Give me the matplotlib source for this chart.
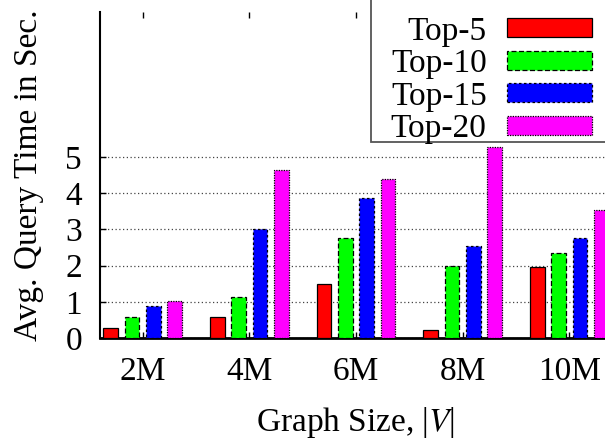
import matplotlib
matplotlib.use("Agg")
import matplotlib.pyplot as plt
import numpy as np
from matplotlib.patches import Rectangle

plt.rcParams['font.family'] = ['Liberation Serif', 'DejaVu Serif']
plt.rcParams['mathtext.fontset'] = 'stix'

sizes = ['2M', '4M', '6M', '8M', '10M']
series = ['Top-5', 'Top-10', 'Top-15', 'Top-20']
top5 = [0.27, 0.57, 1.48, 0.21, 1.95]
top10 = [0.59, 1.12, 2.77, 2.00, 2.34]
top15 = [0.88, 3.00, 3.87, 2.53, 2.75]
top20 = [1.01, 4.64, 4.40, 5.28, 3.54]

colors = ['#ff0000', '#00ff00', '#0000ff', '#ff00ff']
edge_styles = ['-', (0, (4, 2)), (0, (2, 2)), (0, (1, 1))]
fs = 24

fig = plt.figure(figsize=(6.05, 4.43), dpi=100)
ax = fig.add_axes([0.1653, 0.2370, 0.8463, 0.7359])

x = np.arange(len(sizes))
width = 0.135
offsets = [-0.3, -0.1, 0.1, 0.3]
for vals, lab, c, ls, off in zip([top5, top10, top15, top20], series, colors, edge_styles, offsets):
    ax.bar(x + off, vals, width, color=c, edgecolor='black', linewidth=0.9,
           linestyle=ls, label=lab, zorder=3)

ax.set_xlim(-0.4, 4.4)
ax.set_ylim(0, 9)
ax.set_xticks(x)
ax.set_xticklabels(sizes)
ax.set_yticks(range(6))
ax.grid(axis='y', linestyle=(0, (1, 2)), color='#444444', linewidth=0.9, zorder=0)
ax.set_axisbelow(True)

ax.spines['top'].set_visible(False)
ax.spines['left'].set_linewidth(1.5)
ax.spines['bottom'].set_linewidth(2)
ax.tick_params(axis='x', direction='in', top=True, length=4, width=1, pad=13.5, labelsize=fs)
ax.tick_params(axis='y', direction='in', right=True, length=4, width=1, pad=13, labelsize=fs)

ax.set_xlabel('Graph Size, |$V$|', fontsize=fs, labelpad=12.5)
ax.set_ylabel('Avg. Query Time in Sec.', fontsize=fs)
ax.yaxis.set_label_coords(-0.109, 0.5)

# legend box drawn separately so its right side runs off the canvas
ax.add_patch(Rectangle((0.529, 0.601), 0.6, 0.5, transform=ax.transAxes,
                       facecolor='white', edgecolor='#555555', linewidth=1.3,
                       zorder=4, clip_on=False))
leg = ax.legend(loc='upper right', bbox_to_anchor=(0.9615, 0.987), frameon=False,
                markerfirst=False, fontsize=fs, borderpad=0, borderaxespad=0,
                handlelength=2.55, handleheight=0.5, handletextpad=0.62,
                labelspacing=0.06)
leg.set_zorder(5)

fig.savefig('out.png', dpi=100)
